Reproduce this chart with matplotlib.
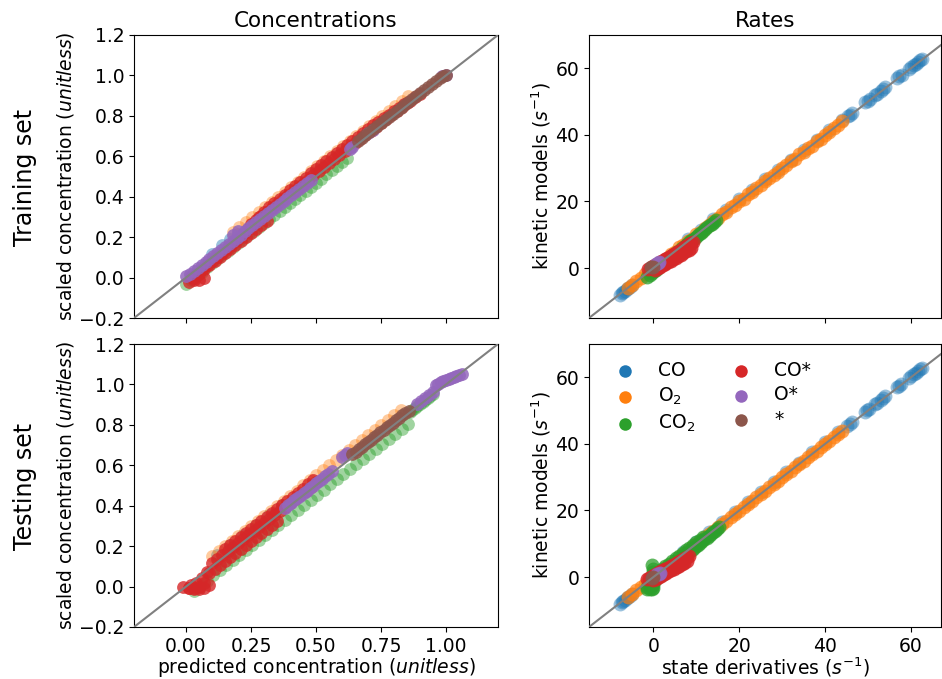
import matplotlib
matplotlib.use("Agg")
import matplotlib.pyplot as plt

SPECIES = ["CO", "O$_2$", "CO$_2$", "CO*", "O*", "*"]
COLORS = ["#1f77b4", "#ff7f0e", "#2ca02c", "#d62728", "#9467bd", "#8c564b"]

# ================= Training set, concentrations =================
TRC_CO_X = [0.10, 0.14, 0.17, 0.20]
TRC_CO_Y = [0.115, 0.16, 0.19, 0.215]
TRC_O2_X = [0.18, 0.205, 0.23, 0.255, 0.28, 0.305, 0.33, 0.355, 0.38, 0.405, 0.43, 0.455, 0.48, 0.505,
            0.53, 0.555, 0.58, 0.605, 0.63, 0.655, 0.68, 0.705, 0.73, 0.755, 0.78, 0.805, 0.83, 0.855]
TRC_O2_Y = [0.225, 0.25, 0.275, 0.30, 0.325, 0.35, 0.375, 0.40, 0.425, 0.45, 0.475, 0.50, 0.525, 0.55,
            0.575, 0.60, 0.625, 0.65, 0.675, 0.70, 0.725, 0.75, 0.775, 0.80, 0.825, 0.85, 0.875, 0.90]
TRC_CO2_X = [0.00, 0.02, 0.04, 0.06, 0.08, 0.10, 0.12, 0.14, 0.16, 0.18, 0.20, 0.22, 0.24, 0.26, 0.28, 0.30,
             0.32, 0.34, 0.36, 0.38, 0.40, 0.42, 0.44, 0.46, 0.48, 0.50, 0.52, 0.54, 0.56, 0.58, 0.60, 0.62]
TRC_CO2_Y = [-0.03, -0.01, 0.01, 0.03, 0.05, 0.07, 0.09, 0.11, 0.13, 0.15, 0.17, 0.19, 0.21, 0.23, 0.25, 0.27,
             0.29, 0.31, 0.33, 0.35, 0.37, 0.39, 0.41, 0.43, 0.45, 0.47, 0.49, 0.51, 0.53, 0.55, 0.57, 0.59]
TRC_COS_X = [0.02, 0.04, 0.06, 0.08, 0.10, 0.12, 0.14, 0.16, 0.18, 0.20, 0.22, 0.24, 0.26, 0.28, 0.30,
             0.32, 0.34, 0.36, 0.38, 0.40, 0.42, 0.44, 0.46, 0.48, 0.50, 0.52, 0.54, 0.56, 0.58, 0.60,
             0.62, 0.64, 0.66, 0.68, 0.70, 0.72, 0.74, 0.76, 0.78, 0.80, 0.82, 0.84, 0.86, 0.88, 0.90,
             0.25, 0.27, 0.29, 0.31, 0.33, 0.35, 0.37, 0.39, 0.41, 0.43, 0.45, 0.47, 0.49, 0.51, 0.53,
             0.55, 0.57, 0.59, 0.61, 0.63, 0.65, 0.67, 0.69, 0.71, 0.73, 0.75, 0.77, 0.79, 0.81, 0.83, 0.85,
             0.01, 0.03, 0.05, 0.07, 0.09, 0.11, 0.13, 0.15, 0.17, 0.19, 0.21, 0.23, 0.25, 0.27, 0.29, 0.31,
             0.03, 0.05, 0.07]
TRC_COS_Y = [0.005, 0.02, 0.04, 0.06, 0.08, 0.10, 0.12, 0.145, 0.17, 0.19, 0.215, 0.24, 0.27, 0.30, 0.325,
             0.35, 0.37, 0.39, 0.41, 0.435, 0.455, 0.475, 0.495, 0.515, 0.535, 0.555, 0.575, 0.595, 0.615, 0.635,
             0.655, 0.675, 0.695, 0.715, 0.735, 0.755, 0.77, 0.79, 0.805, 0.825, 0.84, 0.86, 0.875, 0.895, 0.91,
             0.265, 0.285, 0.305, 0.325, 0.345, 0.365, 0.385, 0.405, 0.425, 0.445, 0.465, 0.485, 0.505, 0.525, 0.545,
             0.565, 0.585, 0.605, 0.625, 0.645, 0.665, 0.685, 0.705, 0.725, 0.745, 0.765, 0.785, 0.805, 0.825, 0.845, 0.865,
             -0.02, 0.00, 0.02, 0.04, 0.06, 0.08, 0.10, 0.12, 0.14, 0.16, 0.18, 0.20, 0.22, 0.24, 0.26, 0.28,
             -0.01, -0.01, 0.00]
TRC_OS_X = [0.000, 0.015, 0.030, 0.045, 0.060, 0.075, 0.090, 0.105, 0.120, 0.135, 0.150, 0.165, 0.180,
            0.195, 0.210, 0.225, 0.240, 0.255, 0.270, 0.285, 0.300, 0.315, 0.330, 0.345, 0.360, 0.375,
            0.390, 0.405, 0.420, 0.435, 0.450, 0.465, 0.480,
            0.18, 0.20, 0.63, 0.64, 0.70, 0.72, 0.985, 1.00]
TRC_OS_Y = [0.010, 0.020, 0.033, 0.048, 0.062, 0.077, 0.092, 0.107, 0.122, 0.137, 0.153, 0.168, 0.183,
            0.198, 0.213, 0.228, 0.243, 0.258, 0.273, 0.288, 0.303, 0.318, 0.333, 0.348, 0.363, 0.378,
            0.393, 0.408, 0.423, 0.438, 0.453, 0.468, 0.483,
            0.21, 0.23, 0.635, 0.645, 0.715, 0.73, 0.995, 1.00]
TRC_S_X = [0.660, 0.675, 0.690, 0.705, 0.720, 0.735, 0.750, 0.765, 0.780, 0.795, 0.810, 0.825,
           0.840, 0.855, 0.870, 0.885, 0.900, 0.915, 0.930, 0.945, 0.960, 0.975, 0.990, 1.000]
TRC_S_Y = [0.675, 0.690, 0.705, 0.720, 0.735, 0.750, 0.765, 0.780, 0.795, 0.810, 0.825, 0.840,
           0.855, 0.870, 0.885, 0.900, 0.915, 0.930, 0.945, 0.958, 0.972, 0.985, 0.998, 1.000]

# ================= Testing set, concentrations =================
TEC_CO_X = [0.12, 0.17, 0.22, 0.27, 0.32, 0.37]
TEC_CO_Y = [0.155, 0.205, 0.255, 0.305, 0.355, 0.405]
TEC_O2_X = [0.100, 0.125, 0.150, 0.175, 0.200, 0.225, 0.250, 0.275, 0.300, 0.325, 0.350, 0.375, 0.400, 0.425,
            0.450, 0.475, 0.500, 0.525, 0.550, 0.575, 0.600, 0.625, 0.650, 0.675, 0.700, 0.725, 0.750, 0.775,
            0.800, 0.825]
TEC_O2_Y = [0.150, 0.175, 0.200, 0.225, 0.250, 0.275, 0.300, 0.325, 0.350, 0.375, 0.400, 0.425, 0.450, 0.475,
            0.500, 0.525, 0.550, 0.575, 0.600, 0.625, 0.650, 0.675, 0.700, 0.725, 0.750, 0.775, 0.800, 0.825,
            0.850, 0.875]
TEC_CO2_X = [0.030, 0.055, 0.080, 0.105, 0.130, 0.155, 0.180, 0.205, 0.230, 0.255, 0.280, 0.305, 0.330, 0.355,
             0.380, 0.405, 0.430, 0.455, 0.480, 0.505, 0.530, 0.555, 0.580, 0.605, 0.630, 0.655, 0.680, 0.705,
             0.730, 0.755, 0.780, 0.805, 0.830, 0.855,
             0.86, 0.87, 0.88, 0.89, 0.90, 0.91, 0.92, 0.93, 0.94, 0.95]
TEC_CO2_Y = [-0.020, 0.005, 0.030, 0.055, 0.080, 0.105, 0.130, 0.155, 0.180, 0.205, 0.230, 0.255, 0.280, 0.305,
             0.330, 0.355, 0.380, 0.405, 0.430, 0.455, 0.480, 0.505, 0.530, 0.555, 0.580, 0.605, 0.630, 0.655,
             0.680, 0.705, 0.730, 0.755, 0.780, 0.805,
             0.865, 0.875, 0.885, 0.895, 0.905, 0.915, 0.925, 0.935, 0.945, 0.955]
TEC_COS_X = [-0.01, 0.01, 0.03, 0.05, 0.07, 0.09,
             0.02, 0.04, 0.06, 0.08, 0.10, 0.12, 0.14, 0.16, 0.18, 0.20, 0.22, 0.24, 0.26, 0.28, 0.30,
             0.32, 0.34, 0.36, 0.38, 0.40, 0.42, 0.44, 0.46, 0.48, 0.50,
             0.01, 0.03, 0.05, 0.07, 0.09, 0.11, 0.13, 0.15, 0.17, 0.19, 0.21, 0.23, 0.25, 0.27, 0.29,
             0.31, 0.33, 0.35,
             0.15, 0.17, 0.19, 0.21, 0.23, 0.25, 0.27, 0.29, 0.31, 0.33, 0.35, 0.37, 0.39, 0.41, 0.43,
             0.45, 0.47, 0.49]
TEC_COS_Y = [0.000, -0.005, -0.010, -0.010, -0.005, 0.010,
             0.010, 0.020, 0.040, 0.070, 0.115, 0.135, 0.155, 0.175, 0.195, 0.215, 0.235, 0.255, 0.275, 0.295, 0.315,
             0.335, 0.355, 0.375, 0.395, 0.415, 0.435, 0.455, 0.475, 0.495, 0.515,
             -0.005, -0.005, 0.000, 0.020, 0.065, 0.085, 0.105, 0.125, 0.145, 0.165, 0.185, 0.205, 0.225, 0.245, 0.265,
             0.285, 0.305, 0.325,
             0.185, 0.205, 0.225, 0.245, 0.265, 0.285, 0.305, 0.325, 0.345, 0.365, 0.385, 0.405, 0.425, 0.445, 0.465,
             0.485, 0.505, 0.525]
TEC_OS_X = [0.380, 0.392, 0.404, 0.416, 0.428, 0.440, 0.452, 0.464, 0.476, 0.488, 0.500, 0.512, 0.524,
            0.536, 0.548, 0.560, 0.60, 0.61, 0.62,
            0.890, 0.905, 0.920, 0.935, 0.950,
            0.96, 0.97, 0.98, 0.99, 1.00, 1.01, 1.02, 1.03, 1.04, 1.05, 1.06]
TEC_OS_Y = [0.390, 0.402, 0.414, 0.426, 0.438, 0.450, 0.462, 0.474, 0.486, 0.498, 0.510, 0.522, 0.534,
            0.546, 0.558, 0.570, 0.64, 0.65, 0.66,
            0.905, 0.920, 0.935, 0.950, 0.965,
            0.995, 1.003, 1.010, 1.016, 1.022, 1.028, 1.034, 1.039, 1.044, 1.049, 1.053]
TEC_S_X = [0.640, 0.652, 0.664, 0.676, 0.688, 0.700, 0.712, 0.724, 0.736, 0.748, 0.760, 0.772,
           0.784, 0.796, 0.808, 0.820, 0.832, 0.844, 0.856]
TEC_S_Y = [0.655, 0.667, 0.679, 0.691, 0.703, 0.715, 0.727, 0.739, 0.751, 0.763, 0.775, 0.787,
           0.799, 0.811, 0.823, 0.835, 0.847, 0.859, 0.871]

# ================= Training set, rates =================
TRR_CO_X = [-7.8, -7.4, -7.0, -6.6, -6.2, -5.8, -5.4, -5.0,
            8, 11, 14, 17, 20, 23, 26, 29, 32, 35, 38, 41, 44,
            45.3, 45.8, 46.3, 49.4, 49.9, 50.4, 51.6, 52.1, 53.0, 53.5, 54.0, 56.8, 57.3, 57.8,
            59.6, 60.1, 60.6, 61.1, 61.6, 62.1, 62.5]
TRR_CO_Y = [-8.0, -7.6, -7.2, -6.8, -6.4, -6.0, -5.6, -5.2,
            8.6, 11.5, 14.6, 17.5, 20.6, 23.4, 26.6, 29.5, 32.6, 35.4, 38.6, 41.5, 44.5,
            45.6, 46.1, 46.6, 49.8, 50.3, 50.7, 52.0, 52.4, 53.3, 53.9, 54.4, 57.1, 57.6, 58.1,
            59.9, 60.4, 60.9, 61.4, 61.9, 62.4, 62.8]
TRR_O2_X = [-6, -5, -4, -3, -2, -1, 0, 1, 2, 3, 4, 5, 6, 7, 8, 9, 10, 11, 12, 13, 14, 15, 16, 17, 18,
            19, 20, 21, 22, 23, 24, 25, 26, 27, 28, 29, 30, 31, 32, 33, 34, 35, 36, 37, 38, 39, 40, 41,
            42, 43, 44]
TRR_O2_Y = [-6.0, -5.2, -3.9, -3.1, -1.9, -1.2, 0.1, 0.8, 2.1, 2.8, 4.1, 4.9, 6.2, 6.9, 8.1, 8.8, 10.2,
            10.9, 12.1, 12.8, 14.2, 14.9, 16.1, 16.8, 18.2, 18.9, 20.1, 20.8, 22.2, 22.9, 24.1, 24.8, 26.2,
            26.9, 28.1, 28.8, 30.2, 30.9, 32.1, 32.8, 34.2, 34.9, 36.1, 36.8, 38.2, 38.9, 40.1, 40.8, 42.2,
            42.9, 44.1]
TRR_CO2_X = [-1.4, -0.9, -0.4, 0.1, 0.6, 1.1, 1.6, 2.1, 2.6, 3.1, 3.6, 4.1, 4.6, 5.1, 5.6, 6.1, 6.6,
             7.1, 7.6, 8.1, 8.6, 9.1, 9.6, 10.1, 10.6, 11.1, 11.6, 12.1, 12.6, 13.1, 13.6, 14.1, 14.6]
TRR_CO2_Y = [-2.6, -2.1, -1.5, -1.0, -0.5, 0.0, 0.6, 1.1, 1.6, 2.2, 2.7, 3.2, 3.8, 4.3, 4.8, 5.3, 5.9,
             6.4, 6.9, 7.5, 8.0, 8.5, 9.0, 9.6, 10.1, 10.6, 11.2, 11.7, 12.2, 12.8, 13.3, 13.8, 14.3]
TRR_COS_X = [-1.2, -0.8, -0.4, 0.0, 0.4, 0.8, 1.2, 1.6, 2.0, 2.4, 2.8, 3.2, 3.6, 4.0, 4.4, 4.8, 5.2,
             5.6, 6.0, 6.4, 6.8, 7.2, 7.6, 8.0, 8.4, 8.8, 9.2,
             0.4, 1.0, 1.6, 2.2, 2.8, 3.4, 4.0, 4.6, 5.2, 5.8, 6.4, 7.0, 7.6, 8.2, 8.8]
TRR_COS_Y = [-0.30, 0.01, 0.32, 0.62, 0.93, 1.24, 1.55, 1.86, 2.17, 2.48, 2.78, 3.09, 3.40, 3.71, 4.02,
             4.33, 4.64, 4.94, 5.25, 5.56, 5.87, 6.18, 6.49, 6.80, 7.10, 7.41, 7.72,
             -0.57, -0.11, 0.36, 0.82, 1.28, 1.74, 2.21, 2.67, 3.14, 3.60, 4.06, 4.52, 4.99, 5.45, 5.91]
TRR_OS_X = [0.6, 1.0, 1.4]
TRR_OS_Y = [1.2, 1.5, 1.7]
TRR_S_X = [-0.6, -0.2]
TRR_S_Y = [0.2, 0.4]

# ================= Testing set, rates =================
TER_CO_X = [-7.8, -7.4, -7.0, -6.6, -6.2, -5.8, -5.4, -5.0,
            7, 10, 13, 16, 19, 22, 25, 28, 31, 34, 37, 40, 43,
            45.2, 45.7, 46.2, 49.3, 49.8, 50.3, 51.6, 52.1, 53.0, 53.5, 54.0, 56.7, 57.2, 57.7,
            59.6, 60.1, 60.6, 61.1, 61.6, 62.1, 62.5]
TER_CO_Y = [-8.0, -7.6, -7.2, -6.8, -6.4, -6.0, -5.6, -5.2,
            7.6, 10.5, 13.6, 16.5, 19.6, 22.4, 25.6, 28.5, 31.6, 34.4, 37.6, 40.5, 43.5,
            45.5, 46.0, 46.5, 49.7, 50.2, 50.6, 52.0, 52.4, 53.3, 53.9, 54.4, 57.0, 57.5, 58.0,
            59.9, 60.4, 60.9, 61.4, 61.9, 62.4, 62.8]
TER_O2_X = [-6, -5, -4, -3, -2, -1, 0, 1, 2, 3, 4, 5, 6, 7, 8, 9, 10, 11, 12, 13, 14, 15, 16, 17, 18,
            19, 20, 21, 22, 23, 24, 25, 26, 27, 28, 29, 30, 31, 32, 33, 34, 35, 36, 37, 38, 39, 40, 41,
            42, 43, 44]
TER_O2_Y = [-6.1, -5.1, -4.0, -3.0, -2.0, -1.1, 0.1, 0.9, 2.0, 3.1, 4.0, 4.9, 6.1, 7.0, 7.9, 9.1, 10.0,
            10.9, 12.1, 13.0, 13.9, 15.1, 16.0, 16.9, 18.1, 19.0, 19.9, 21.1, 22.0, 22.9, 24.1, 25.0, 25.9,
            27.1, 28.0, 28.9, 30.1, 31.0, 31.9, 33.1, 34.0, 34.9, 36.1, 37.0, 37.9, 39.1, 40.0, 40.9, 42.1,
            43.0, 43.9]
TER_CO2_X = [-1.6, -1.1, -0.6, -0.1, 0.4, 0.9, 1.4, 1.9, 2.4, 2.9, 3.4, 3.9, 4.4, 4.9, 5.4, 5.9, 6.4,
             6.9, 7.4, 7.9, 8.4, 8.9, 9.4, 9.9, 10.4, 10.9, 11.4, 11.9, 12.4, 12.9, 13.4, 13.9, 14.4, 14.9, 15.4,
             2.0, 2.8, 3.6, 4.4, 5.2, 6.0, 6.8, 7.6, 8.4, 9.2, 10.0, 10.8, 11.6,
             -0.3, -0.2, -0.2, -0.2, -0.1, -0.2, -0.2, -0.3,
             -1.5, -0.8, 0.0]
TER_CO2_Y = [-3.0, -2.5, -1.9, -1.4, -0.9, -0.4, 0.2, 0.7, 1.2, 1.8, 2.3, 2.8, 3.4, 3.9, 4.4, 4.9, 5.5,
             6.0, 6.5, 7.1, 7.6, 8.1, 8.7, 9.2, 9.7, 10.2, 10.8, 11.3, 11.8, 12.4, 12.9, 13.4, 13.9, 14.5, 15.0,
             2.4, 3.2, 4.0, 4.8, 5.6, 6.4, 7.2, 8.0, 8.8, 9.6, 10.4, 11.2, 12.0,
             -3.5, -2.5, -1.5, -0.5, 0.5, 1.5, 2.5, 3.5,
             -3.5, -3.6, -3.4]
TER_COS_X = [-1.4, -1.0, -0.6, -0.2, 0.2, 0.6, 1.0, 1.4, 1.8, 2.2, 2.6, 3.0, 3.4, 3.8, 4.2, 4.6, 5.0,
             5.4, 5.8, 6.2, 6.6, 7.0, 7.4, 7.8, 8.2,
             0.0, 0.6, 1.2, 1.8, 2.4, 3.0, 3.6, 4.2, 4.8, 5.4, 6.0, 6.6, 7.2, 7.8]
TER_COS_Y = [-0.60, -0.31, -0.02, 0.26, 0.55, 0.84, 1.13, 1.42, 1.70, 1.99, 2.28, 2.57, 2.86, 3.14, 3.43,
             3.72, 4.01, 4.30, 4.58, 4.87, 5.16, 5.45, 5.74, 6.02, 6.31,
             -0.89, -0.46, -0.03, 0.40, 0.84, 1.27, 1.70, 2.13, 2.56, 3.00, 3.43, 3.86, 4.30, 4.72]
TER_OS_X = [0.8, 1.2, 1.6]
TER_OS_Y = [0.8, 1.0, 1.2]
TER_S_X = [-0.4, 0.0]
TER_S_Y = [-0.2, 0.1]

PANELS = [
    [(TRC_CO_X, TRC_CO_Y), (TRC_O2_X, TRC_O2_Y), (TRC_CO2_X, TRC_CO2_Y),
     (TRC_COS_X, TRC_COS_Y), (TRC_OS_X, TRC_OS_Y), (TRC_S_X, TRC_S_Y)],
    [(TRR_CO_X, TRR_CO_Y), (TRR_O2_X, TRR_O2_Y), (TRR_CO2_X, TRR_CO2_Y),
     (TRR_COS_X, TRR_COS_Y), (TRR_OS_X, TRR_OS_Y), (TRR_S_X, TRR_S_Y)],
    [(TEC_CO_X, TEC_CO_Y), (TEC_O2_X, TEC_O2_Y), (TEC_CO2_X, TEC_CO2_Y),
     (TEC_COS_X, TEC_COS_Y), (TEC_OS_X, TEC_OS_Y), (TEC_S_X, TEC_S_Y)],
    [(TER_CO_X, TER_CO_Y), (TER_O2_X, TER_O2_Y), (TER_CO2_X, TER_CO2_Y),
     (TER_COS_X, TER_COS_Y), (TER_OS_X, TER_OS_Y), (TER_S_X, TER_S_Y)],
]

CONC_LIM = (-0.2, 1.2)
RATE_XLIM = (-15, 67)
RATE_YLIM = (-15, 70)
CONC_XTICKS = [0.0, 0.25, 0.5, 0.75, 1.0]
CONC_XTICKLABELS = ["0.00", "0.25", "0.50", "0.75", "1.00"]
CONC_YTICKS = [-0.2, 0.0, 0.2, 0.4, 0.6, 0.8, 1.0, 1.2]
CONC_YTICKLABELS = ["\u22120.2", "0.0", "0.2", "0.4", "0.6", "0.8", "1.0", "1.2"]
RATE_TICKS = [0, 20, 40, 60]

CONC_ALPHA = [0.45, 0.4, 0.45, 0.8, 0.85, 0.85]
RATE_ALPHA = [0.45, 0.7, 0.75, 0.85, 0.85, 0.9]
CONC_SIZE = 85
RATE_SIZE = 100

FS = 13.5
fig = plt.figure(figsize=(9.42, 6.79), dpi=100)
W, H = 942, 679


def add_ax(l, t, r, b):
    return fig.add_axes([l / W, 1 - b / H, (r - l) / W, (b - t) / H])


ax_tl = add_ax(134, 35, 498, 318)
ax_tr = add_ax(589, 35, 941, 318)
ax_bl = add_ax(134, 344, 498, 627)
ax_br = add_ax(589, 344, 941, 627)
axes = [ax_tl, ax_tr, ax_bl, ax_br]
alphas = [CONC_ALPHA, RATE_ALPHA, CONC_ALPHA, RATE_ALPHA]
sizes = [CONC_SIZE, RATE_SIZE, CONC_SIZE, RATE_SIZE]

for ax, data, al, sz in zip(axes, PANELS, alphas, sizes):
    for (xs, ys), c, lab, a in zip(data, COLORS, SPECIES, al):
        ax.scatter(xs, ys, s=sz, color=c, alpha=a, linewidths=0, label=lab)
    ax.tick_params(labelsize=FS)

for ax in (ax_tl, ax_bl):
    ax.plot([-0.2, 1.2], [-0.2, 1.2], color="gray", lw=1.5, zorder=5)
    ax.set_xlim(*CONC_LIM)
    ax.set_ylim(*CONC_LIM)
    ax.set_xticks(CONC_XTICKS)
    ax.set_yticks(CONC_YTICKS)
    ax.set_yticklabels(CONC_YTICKLABELS)
    ax.set_ylabel("scaled concentration ($\\it{unitless}$)", fontsize=FS, labelpad=2)
for ax in (ax_tr, ax_br):
    ax.plot([-15, 70], [-15, 70], color="gray", lw=1.5, zorder=5)
    ax.set_xlim(*RATE_XLIM)
    ax.set_ylim(*RATE_YLIM)
    ax.set_xticks(RATE_TICKS)
    ax.set_yticks(RATE_TICKS)
    ax.set_ylabel("kinetic models ($s^{-1}$)", fontsize=FS, labelpad=2)

ax_tl.set_xticklabels([])
ax_tr.set_xticklabels([])
ax_bl.set_xticklabels(CONC_XTICKLABELS)
ax_bl.set_xlabel("predicted concentration ($\\it{unitless}$)", fontsize=FS, labelpad=0)
ax_br.set_xlabel("state derivatives ($s^{-1}$)", fontsize=FS, labelpad=0)
ax_tl.set_title("Concentrations", fontsize=15.5)
ax_tr.set_title("Rates", fontsize=15.5)

fig.text(25 / W, 1 - 177 / H, "Training set", rotation=90, fontsize=17,
         ha="center", va="center")
fig.text(25 / W, 1 - 486 / H, "Testing set", rotation=90, fontsize=17,
         ha="center", va="center")

leg = ax_br.legend(loc="upper left", ncol=2, frameon=False, fontsize=FS,
                   columnspacing=1.4, handletextpad=0.8, borderaxespad=0.5,
                   labelspacing=0.3, markerscale=0.9)
for h in leg.legend_handles:
    h.set_alpha(1)

fig.savefig("out.png", dpi=100)
